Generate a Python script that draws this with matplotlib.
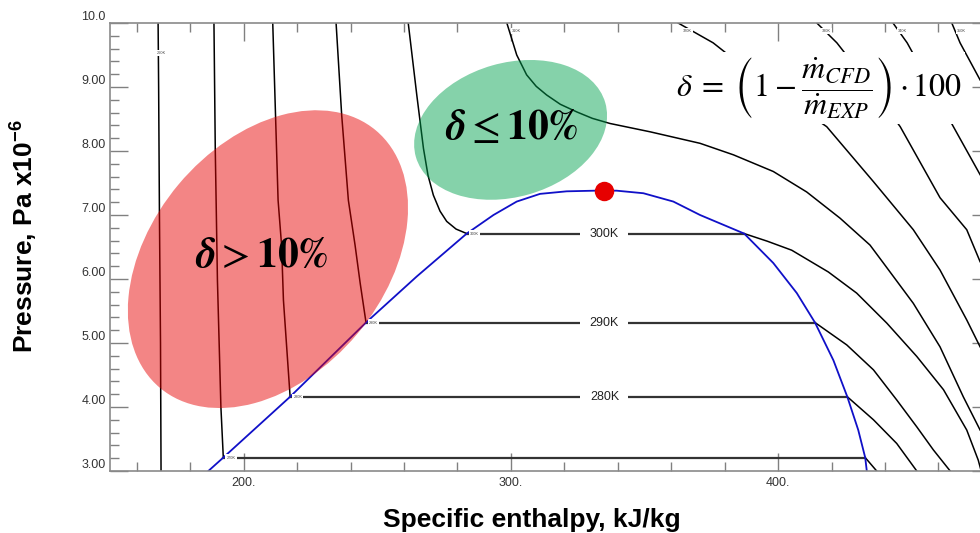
import numpy as np
import matplotlib.pyplot as plt
from matplotlib.patches import Ellipse
from matplotlib.transforms import ScaledTranslation

plt.rcParams['font.family'] = ['Liberation Sans', 'DejaVu Sans']
plt.rcParams['mathtext.fontset'] = 'custom'
plt.rcParams['mathtext.rm'] = 'Liberation Sans:bold'
plt.rcParams['mathtext.bf'] = 'Liberation Sans:bold'
plt.rcParams['mathtext.it'] = 'Liberation Sans:bold:italic'

# CO2 saturation dome (h in kJ/kg, P in MPa)
sat_liq_h = [186.8, 192.4, 217.4, 245.8, 264.8, 283.5, 293.5, 302.2, 310.9, 320.9, 331.5, 335.0]
sat_liq_p = [3.00, 3.21, 4.16, 5.32, 6.04, 6.71, 7.00, 7.21, 7.33, 7.37, 7.38, 7.38]
sat_vap_h = [335.0, 339.6, 349.6, 360.8, 370.8, 387.3, 398.2, 407.0, 413.8, 420.7, 425.9, 430.0, 432.6, 433.2]
sat_vap_p = [7.38, 7.38, 7.34, 7.21, 7.00, 6.71, 6.25, 5.78, 5.32, 4.73, 4.16, 3.64, 3.21, 3.00]
crit_h, crit_p = 335.0, 7.38

# subcritical isotherms: liquid branch, plateau, vapour branch
t260_h = [168.0, 168.2, 168.5, 168.9, 169.1]
t260_p = [10.0, 9.0, 7.0, 5.0, 3.0]

t270_liq_h = [188.9, 189.4, 189.8, 190.2, 191.5, 192.4]
t270_liq_p = [10.0, 8.0, 7.0, 5.98, 4.0, 3.21]
t270_vap_h = [432.6, 436.9]
t270_vap_p = [3.21, 3.0]

t280_liq_h = [210.9, 212.9, 214.2, 214.9, 217.4]
t280_liq_p = [10.0, 7.23, 6.53, 5.67, 4.16]
t280_vap_h = [425.9, 435.7, 444.4, 451.9]
t280_vap_p = [4.16, 3.80, 3.43, 3.0]

t290_liq_h = [234.6, 236.7, 239.2, 241.7, 243.6, 245.8]
t290_liq_p = [10.0, 8.56, 7.23, 6.53, 5.94, 5.32]
t290_vap_h = [413.8, 425.7, 435.7, 444.4, 451.9, 458.1, 464.4]
t290_vap_p = [5.32, 4.97, 4.58, 4.11, 3.69, 3.33, 3.0]

t300_liq_h = [261.6, 264.8, 267.3, 269.0, 271.0, 273.5, 276.0, 279.5, 283.5]
t300_liq_p = [10.0, 8.875, 8.04, 7.62, 7.31, 7.06, 6.90, 6.78, 6.71]
t300_vap_h = [387.3, 396.0, 405.1, 418.8, 429.4, 440.7, 451.9, 461.9, 470.6, 474.9, 476.0]
t300_vap_p = [6.71, 6.59, 6.45, 6.11, 5.78, 5.31, 4.79, 4.27, 3.64, 3.17, 3.0]

# supercritical isotherms
t310_h = [298.5, 302.2, 305.9, 309.5, 313.4, 318.5, 324.7, 330.5, 337.1, 352.1, 370.8, 383.3,
          398.2, 410.7, 423.2, 434.4, 439.4, 450.6, 460.6, 469.3, 475.6]
t310_p = [10.0, 9.5, 9.19, 9.01, 8.875, 8.73, 8.61, 8.51, 8.43, 8.30, 8.12, 7.94,
          7.68, 7.36, 6.95, 6.53, 6.25, 5.62, 4.94, 4.16, 3.64]
t320_h = [362.6, 375.7, 393.3, 406.4, 418.2, 435.7, 450.6, 460.6, 470.6, 475.6]
t320_p = [10.0, 9.69, 9.11, 8.72, 8.38, 7.52, 6.77, 6.14, 5.36, 4.94]
t330_h = [414.5, 422.0, 434.4, 445.7, 460.6, 470.6, 475.6]
t330_p = [10.0, 9.69, 9.03, 8.38, 7.27, 6.77, 6.27]
t340_h = [443.0, 448.3, 465.6, 475.6]
t340_p = [10.0, 9.69, 8.38, 7.63]
t350_h = [465.0, 468.1, 475.6]
t350_p = [10.0, 9.69, 9.11]

x_major = [200, 300, 400]
x_labels = ['200.', '300.', '400.']
y_major = [3, 4, 5, 6, 7, 8, 9, 10]
y_labels = ['3.00', '4.00', '5.00', '6.00', '7.00', '8.00', '9.00', '10.0']

fig = plt.figure(figsize=(9.8, 5.33), dpi=100)
# the right-hand frame runs a little past the edge of the canvas
ax = fig.add_axes([110 / 980, 62 / 533, 880 / 980, 448 / 533])
ax.set_xlim(150, 479.3)
ax.set_ylim(3.0, 10.0)

line_kw = dict(color='black', lw=1.1, zorder=2)
plateau_kw = dict(color='#333333', lw=1.6, zorder=2)
tiny = dict(fontsize=2.8, color='#444444', zorder=3,
            bbox=dict(facecolor='white', edgecolor='none', pad=0.8))

ax.plot(t260_h, t260_p, **line_kw)
ax.text(t260_h[0] + 1.2, 9.53, '260K', ha='center', va='center', **tiny)

subcrit = [
    ('270K', t270_liq_h, t270_liq_p, t270_vap_h, t270_vap_p, False),
    ('280K', t280_liq_h, t280_liq_p, t280_vap_h, t280_vap_p, True),
    ('290K', t290_liq_h, t290_liq_p, t290_vap_h, t290_vap_p, True),
    ('300K', t300_liq_h, t300_liq_p, t300_vap_h, t300_vap_p, True),
]
for name, lh, lp, vh, vp, big in subcrit:
    ax.plot(lh, lp, **line_kw)
    ax.plot(vh, vp, **line_kw)
    ax.plot([lh[-1], vh[0]], [lp[-1], vp[0]], **plateau_kw)
    ax.text(lh[-1] + 1.2, lp[-1], name, ha='left', va='center', **tiny)
    if big:
        ax.text(crit_h, lp[-1], name, ha='center', va='center', fontsize=9,
                color='#222222', zorder=3,
                bbox=dict(facecolor='white', edgecolor='none',
                          boxstyle='square,pad=0.75'))

for name, hh, pp in [('310K', t310_h, t310_p), ('320K', t320_h, t320_p),
                     ('330K', t330_h, t330_p), ('340K', t340_h, t340_p),
                     ('350K', t350_h, t350_p)]:
    ax.plot(hh, pp, **line_kw)
    ax.text(hh[0] + 3.5, 9.88, name, ha='center', va='center', **tiny)

ax.plot(sat_liq_h, sat_liq_p, color='#1010c8', lw=1.3, zorder=2.5)
ax.plot(sat_vap_h, sat_vap_p, color='#1010c8', lw=1.3, zorder=2.5)

# accuracy regions, sized in inches so they keep their shape
red_zone = Ellipse((0, 0), 3.36, 2.33, angle=50, facecolor=(0.9, 0.0, 0.0),
                   alpha=0.48, edgecolor='none', zorder=4,
                   transform=fig.dpi_scale_trans + ScaledTranslation(209.1, 6.31, ax.transData))
green_zone = Ellipse((0, 0), 1.97, 1.34, angle=16, facecolor=(0.0, 0.63, 0.31),
                     alpha=0.48, edgecolor='none', zorder=4,
                     transform=fig.dpi_scale_trans + ScaledTranslation(299.9, 8.33, ax.transData))
ax.add_patch(red_zone)
ax.add_patch(green_zone)

ax.plot(crit_h, crit_p, 'o', ms=14, color='#e60000', mec='none', zorder=5)

ax.text(206.9, 6.36, r'$\boldsymbol{\delta} > \mathbf{10\%}$', math_fontfamily='stix',
        fontsize=30, ha='center', va='center', zorder=6)
ax.text(300.4, 8.36, r'$\boldsymbol{\delta} \leq \mathbf{10\%}$', math_fontfamily='stix',
        fontsize=30, ha='center', va='center', zorder=6)
ax.text(415.4, 8.98,
        r'$\delta\;=\;\left(1-\dfrac{\dot{m}_{CFD}}{\dot{m}_{EXP}}\right)\cdot 100$',
        math_fontfamily='stix', fontsize=23, ha='center', va='center', zorder=6,
        bbox=dict(facecolor='white', edgecolor='none', pad=2))

ax.set_xticks(x_major)
ax.set_xticklabels(x_labels)
ax.set_xticks(np.arange(160, 480, 20), minor=True)
ax.set_yticks(y_major)
ax.set_yticklabels(y_labels)
ax.set_yticks(np.arange(3.0, 10.0, 0.2), minor=True)
ax.tick_params(which='both', direction='in', top=True, right=True,
               color='#808080', width=1.0, labelcolor='#333333', labelsize=9)
ax.tick_params(which='major', length=12.7)
ax.tick_params(which='minor', length=6.2)
ax.tick_params(axis='y', pad=3)
ax.tick_params(axis='x', pad=4)
for t in ax.yaxis.get_major_ticks():
    t.label1.set_verticalalignment('bottom')
for s in ax.spines.values():
    s.set_color('#8a8a8a')
    s.set_linewidth(1.2)

fig.text(532 / 980, 1 - 520 / 533, 'Specific enthalpy, kJ/kg', ha='center', va='center',
         fontsize=19, fontweight='bold')
fig.text(24 / 980, 1 - 236 / 533, r'Pressure, Pa x10$^{\mathbf{-6}}$', ha='center', va='center',
         rotation=90, fontsize=19, fontweight='bold')

fig.savefig('out.png', dpi=100)
